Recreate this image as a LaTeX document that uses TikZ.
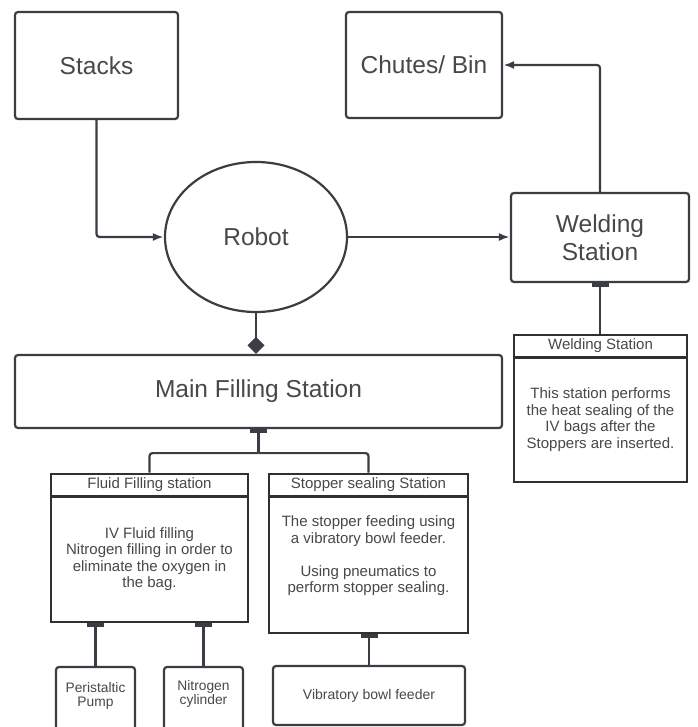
\documentclass[tikz,border=0pt]{standalone}
\usepackage{fontspec}
\setmainfont{Liberation Sans}
\usetikzlibrary{arrows.meta,shapes.geometric,calc}
\definecolor{ln}{HTML}{3A3E44}
\definecolor{pn}{HTML}{303030}
\definecolor{tx}{HTML}{484848}
\begin{document}
\begin{tikzpicture}[x=1pt,y=-1pt,
  box/.style={draw=ln, line width=2.2pt, rounded corners=3pt, fill=white, inner sep=0pt,
    text=tx, font=\fontsize{24.5}{28}\selectfont, align=center},
  panel/.style={draw=pn, line width=2.6pt, fill=white, inner sep=0pt},
  small/.style={text=tx, font=\fontsize{15}{16.5}\selectfont, align=center, inner sep=0pt},
  tiny/.style={text=tx, font=\fontsize{13.8}{14.5}\selectfont, align=center, inner sep=0pt},
  conn/.style={draw=ln, line width=2.2pt, rounded corners=3pt},
  arr/.style={conn, -{Latex[length=11pt,width=8pt]}},
  barstart/.style={conn, {Rectangle[length=4pt,width=17pt]}-},
  barend/.style={conn, -{Rectangle[length=4pt,width=17pt]}}
]
\clip (0,0) rectangle (697,727);
\fill[white] (0,0) rectangle (697,727);

% top level
\node[box, minimum width=163pt, minimum height=107pt] (stacks) at (96.5,65.5) {Stacks};
\node[box, minimum width=156pt, minimum height=106pt] (chutes) at (424,65) {Chutes/ Bin};
\node[box, ellipse, rounded corners=0pt, minimum width=182pt, minimum height=150pt] (robot) at (256,237) {Robot};
\node[box, minimum width=178pt, minimum height=89pt] (welding) at (600,237.5) {Welding\\Station};
\node[box, minimum width=487pt, minimum height=73pt] (main) at (258.5,391.5) {Main Filling Station};

% welding detail
\node[panel, minimum width=173pt, minimum height=147pt] (wdet) at (600.5,408.5) {};
\draw[pn, line width=2.6pt] ($(wdet.north west)+(0,24)$) -- ($(wdet.north east)+(0,24)$);
\node[small] (wdeth) at ($(wdet.north)+(0,12)$) {Welding Station};
\node[small] (wdetb) at (600.5,419.5) {This station performs\\the heat sealing of the\\IV bags after the\\Stoppers are inserted.};

% fluid filling
\node[panel, minimum width=197pt, minimum height=148pt] (fluid) at (149.5,548) {};
\draw[pn, line width=2.6pt] ($(fluid.north west)+(0,24)$) -- ($(fluid.north east)+(0,24)$);
\node[small] (fluidh) at ($(fluid.north)+(0,12)$) {Fluid Filling station};
\node[small] (fluidb) at (149.5,559) {IV Fluid filling\\Nitrogen filling in order to\\eliminate the oxygen in\\the bag.};

% stopper sealing
\node[panel, minimum width=199pt, minimum height=159pt] (stopper) at (368.5,553.5) {};
\draw[pn, line width=2.6pt] ($(stopper.north west)+(0,24)$) -- ($(stopper.north east)+(0,24)$);
\node[small] (stopperh) at ($(stopper.north)+(0,12)$) {Stopper sealing Station};
\node[small] (stopperb) at (368.5,556) {The stopper feeding using\\a vibratory bowl feeder.\\[16.5pt]Using pneumatics to\\perform stopper sealing.};

% bottom boxes
\node[box, minimum width=79pt, minimum height=73pt] (peri) at (95.5,703.5) {};
\node[tiny] (perit) at (95.5,696) {Peristaltic\\Pump};
\node[box, minimum width=79pt, minimum height=73pt] (nitro) at (203.5,703.5) {};
\node[tiny] (nitrot) at (203.5,694) {Nitrogen\\cylinder};
\node[box, minimum width=192pt, minimum height=59pt, font=\fontsize{14}{16}\selectfont] (vib) at (369,695.5) {Vibratory bowl feeder};

% connectors
\draw[arr] (stacks.south) |- (robot.west);
\draw[arr] (robot.east) -- (robot.east -| welding.west);
\draw[arr] (welding.north) |- (chutes.east);
\draw[conn, -{Diamond[length=17pt,width=17pt]}] (robot.south) -- (robot.south |- main.north);
\draw[barend] (wdet.north -| welding.south) -- (welding.south);

\coordinate (br) at ($(main.south)+(0,24)$);
\draw[barstart] (main.south) -- (br);
\draw[conn] (br) -| (fluid.north);
\draw[conn] (br) -| (stopper.north);

\draw[barstart] (fluid.south -| peri.north) -- (peri.north);
\draw[barstart] (fluid.south -| nitro.north) -- (nitro.north);
\draw[barstart] (stopper.south -| vib.north) -- (vib.north);
\end{tikzpicture}
\end{document}
